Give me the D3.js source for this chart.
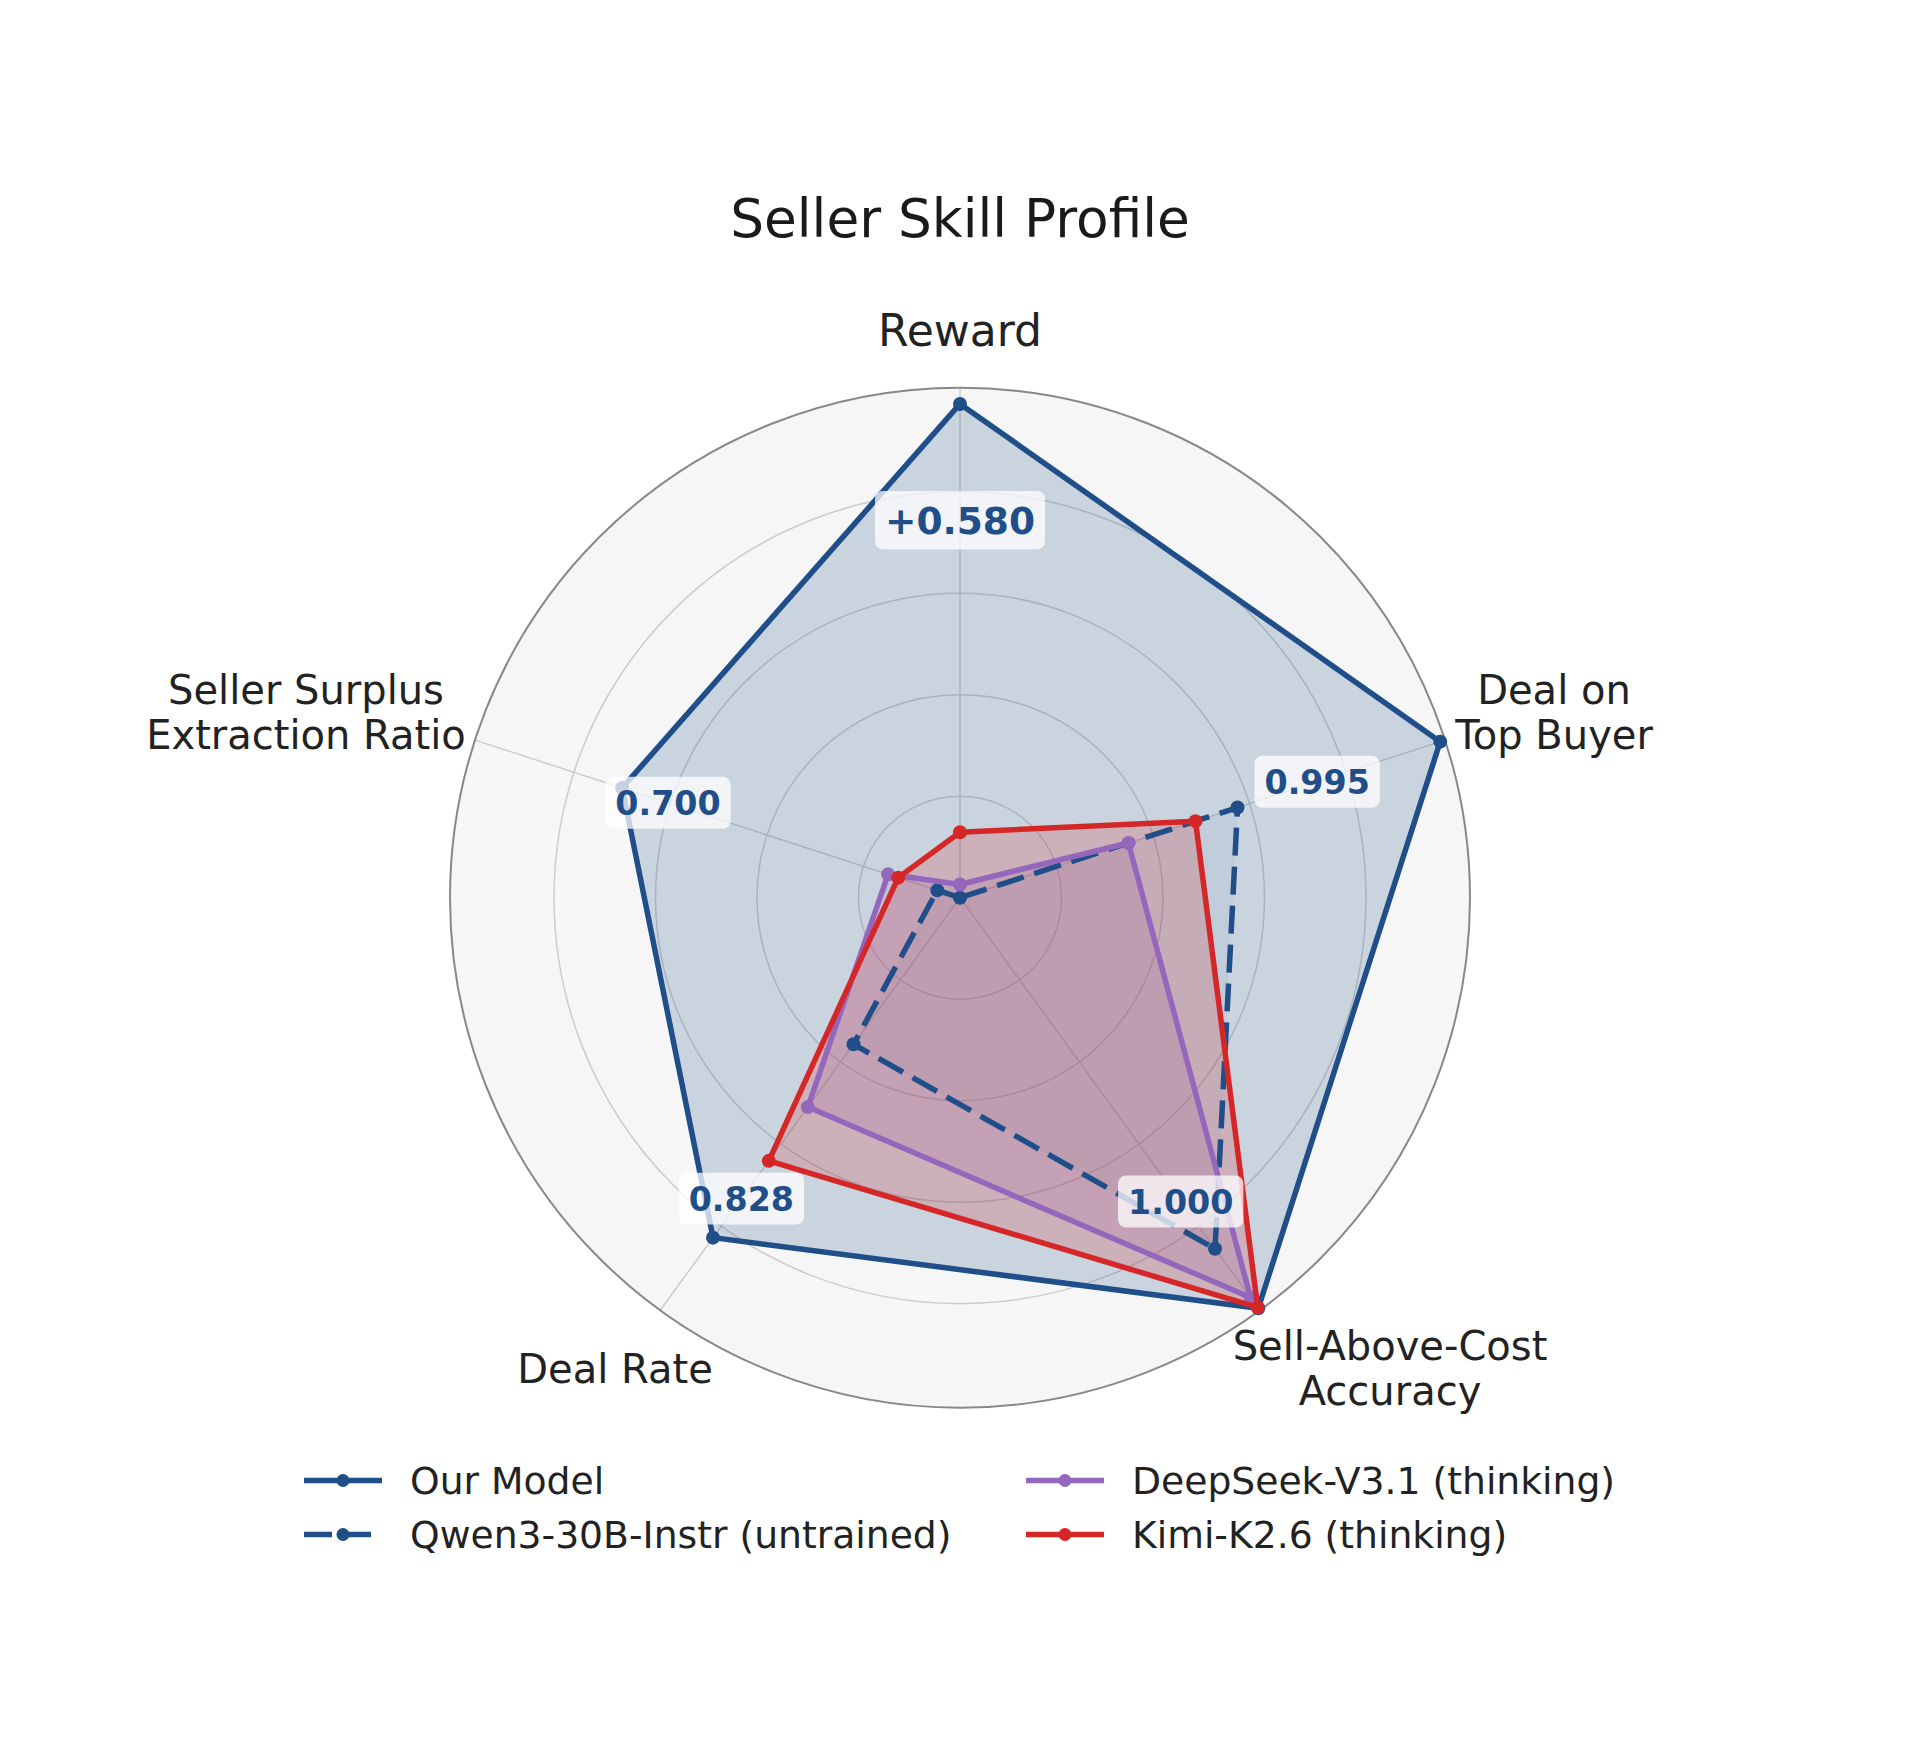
<!DOCTYPE html>
<html>
<head>
<script src="https://d3js.org/d3.v7.min.js"></script>
<style>
  body { margin: 0; background: #ffffff; }
  text { font-family: "DejaVu Sans", sans-serif; }
</style>
</head>
<body>
<div id="container"></div>
<script>
// axes, clockwise from the top
const axes = ["Reward", "Deal on\nTop Buyer", "Sell-Above-Cost\nAccuracy", "Deal Rate", "Seller Surplus\nExtraction Ratio"];

// normalized scores (0 = centre)
const ourModel = [0.973, 0.995, 1.000, 0.828, 0.700];
const qwen     = [0.000, 0.575, 0.855, 0.357, 0.047];
const deepseek = [0.026, 0.349, 0.974, 0.510, 0.149];
const kimi     = [0.129, 0.488, 0.998, 0.641, 0.128];

// raw values printed for our model
const ourLabels = ["+0.580", "0.995", "1.000", "0.828", "0.700"];

const seriesNames = ["Our Model", "Qwen3-30B-Instr (untrained)", "DeepSeek-V3.1 (thinking)", "Kimi-K2.6 (thinking)"];
const ringTicks = [0.2, 0.4, 0.6, 0.8];

// ---- layout
const W = 1920, H = 1760;
const cx = 960, cy = 897.7, R = 510;

const svg = d3.select("#container").append("svg")
    .attr("width", W).attr("height", H)
    .style("background", "#ffffff");

const rScale = d3.scaleLinear().domain([0, 1.005]).range([0, R]);
const aScale = d3.scaleLinear().domain([0, axes.length]).range([0, 2 * Math.PI]);

const series = [
  {name: seriesNames[0], values: ourModel, color: "#1f4e89", dash: null, fillOp: 0.2},
  {name: seriesNames[1], values: qwen, color: "#1f4e89", dash: "28,11", fillOp: 0.05},
  {name: seriesNames[2], values: deepseek, color: "#9467bd", dash: null, fillOp: 0.18},
  {name: seriesNames[3], values: kimi, color: "#d62728", dash: null, fillOp: 0.2}
];

const pt = (i, v) => {
  const a = aScale(i), r = rScale(v);
  return [r * Math.sin(a), -r * Math.cos(a)];
};

const g = svg.append("g").attr("transform", "translate(" + cx + "," + cy + ")");

// polar background
g.append("circle").attr("r", R).attr("fill", "#f6f6f6");

// grid rings + spokes (below the fills)
g.selectAll(".ring").data(ringTicks).enter().append("circle")
    .attr("r", d => rScale(d))
    .attr("fill", "none").attr("stroke", "#cccccc").attr("stroke-width", 1.5);

g.selectAll(".spoke").data(axes).enter().append("line")
    .attr("x1", 0).attr("y1", 0)
    .attr("x2", (d, i) => R * Math.sin(aScale(i)))
    .attr("y2", (d, i) => -R * Math.cos(aScale(i)))
    .attr("stroke", "#cccccc").attr("stroke-width", 1.5);

const radial = d3.lineRadial()
    .angle((d, i) => aScale(i))
    .radius(d => rScale(d))
    .curve(d3.curveLinearClosed);

// fills
series.forEach(s => {
  g.append("path")
      .attr("d", radial(s.values))
      .attr("fill", s.color).attr("fill-opacity", s.fillOp)
      .attr("stroke", "none");
});

// outer spine
g.append("circle").attr("r", R)
    .attr("fill", "none").attr("stroke", "#888888").attr("stroke-width", 2);

// lines and markers
series.forEach(s => {
  g.append("path")
      .attr("d", radial(s.values))
      .attr("fill", "none")
      .attr("stroke", s.color).attr("stroke-width", 5.5)
      .attr("stroke-linejoin", "round")
      .attr("stroke-dasharray", s.dash);
  g.selectAll(null).data(s.values).enter().append("circle")
      .attr("cx", (d, i) => pt(i, d)[0])
      .attr("cy", (d, i) => pt(i, d)[1])
      .attr("r", 7)
      .attr("fill", s.color);
});

// value labels for our model (reward label printed a bit larger)
ourModel.forEach((v, i) => {
  const p = pt(i, Math.min(v - 0.095, 0.74));
  const fs = i === 0 ? 37.5 : 33.3;
  const dy = i === 0 ? -2 : 0;
  const lg = g.append("g").attr("transform", "translate(" + p[0] + "," + (p[1] + dy) + ")");
  const box = lg.append("rect");
  const t = lg.append("text")
      .attr("text-anchor", "middle")
      .attr("y", fs * 0.36)
      .attr("font-size", fs).attr("font-weight", "bold")
      .attr("fill", "#1f4e89")
      .text(ourLabels[i]);
  const w = t.node().getComputedTextLength() + 20;
  const h = fs * 1.56;
  box.attr("x", -w / 2).attr("y", -h / 2).attr("width", w).attr("height", h)
      .attr("rx", 8).attr("fill", "#ffffff").attr("fill-opacity", 0.75);
});

// axis labels: block centres relative to the plot centre
const labelPos = [[0, -568], [594, -186], [430, 470], [-345, 471], [-654, -186]];
const labelSize = [44, 40, 40, 40, 40];
const lineGap = 45;
axes.forEach((name, i) => {
  const lines = name.split("\n");
  const capH = labelSize[i] * 0.729;
  const top = labelPos[i][1] - (capH + (lines.length - 1) * lineGap) / 2;
  const t = g.append("text")
      .attr("text-anchor", "middle")
      .attr("font-size", labelSize[i]).attr("fill", "#222222");
  lines.forEach((ln, k) => {
    t.append("tspan")
        .attr("x", labelPos[i][0])
        .attr("y", top + capH + k * lineGap)
        .text(ln);
  });
});

// title
svg.append("text")
    .attr("x", 960).attr("y", 237)
    .attr("text-anchor", "middle")
    .attr("font-size", 53.3).attr("fill", "#1a1a1a")
    .text("Seller Skill Profile");

// legend (2 columns)
const legX = [304, 1026], legY = [1480.5, 1534.5];
series.forEach((s, i) => {
  const col = Math.floor(i / 2), row = i % 2;
  const lx = legX[col], ly = legY[row];
  const lgd = svg.append("g");
  lgd.append("line")
      .attr("x1", lx).attr("x2", lx + 78)
      .attr("y1", ly).attr("y2", ly)
      .attr("stroke", s.color).attr("stroke-width", 5.5)
      .attr("stroke-dasharray", s.dash);
  lgd.append("circle").attr("cx", lx + 39).attr("cy", ly).attr("r", 6.5).attr("fill", s.color);
  lgd.append("text")
      .attr("x", lx + 106).attr("y", ly + 13)
      .attr("font-size", 37.7).attr("fill", "#222222")
      .text(s.name);
});
</script>
</body>
</html>
